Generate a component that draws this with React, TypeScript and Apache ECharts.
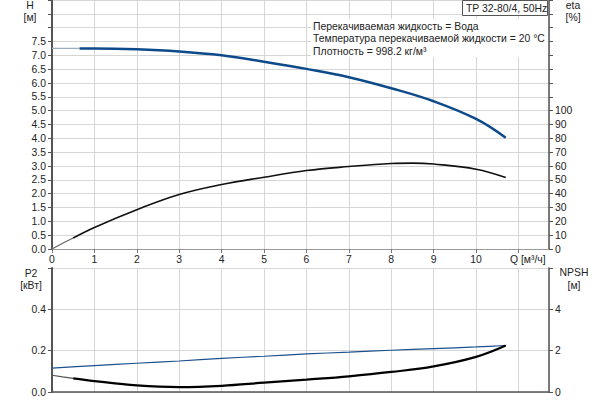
import React, { useEffect, useRef } from "react";
import * as echarts from "echarts";

// Q axis ticks
const qTicks = [0, 1, 2, 3, 4, 5, 6, 7, 8, 9, 10];

// Head H [m]
const headLowQ = [0, 0.65];
const headLow = [7.25, 7.25];
const headQ = [0.65, 1, 2, 3, 4, 5, 6, 7, 8, 9, 10, 10.7];
const headH = [7.25, 7.25, 7.22, 7.14, 7.0, 6.77, 6.51, 6.21, 5.81, 5.34, 4.7, 4.02];

// Efficiency eta [%]
const etaLowQ = [0, 0.25, 0.5];
const etaLow = [0, 4.1, 8];
const etaQ = [0.5, 1, 2, 3, 4, 5, 6, 7, 8, 8.5, 9, 10, 10.7];
const etaV = [8, 15.6, 28.4, 39.4, 46.6, 51.9, 56.7, 59.6, 61.8, 62.1, 61.4, 57.7, 51.7];

// Power P2 [kW]
const p2Q = [0, 1, 2, 3, 4, 5, 6, 7, 8, 9, 10, 10.7];
const p2V = [0.116, 0.128, 0.139, 0.15, 0.163, 0.173, 0.184, 0.193, 0.202, 0.21, 0.218, 0.225];

// NPSH [m]
const npshLowQ = [0, 0.25, 0.5];
const npshLow = [0.81, 0.73, 0.66];
const npshQ = [0.5, 1, 2, 3, 4, 5, 6, 7, 8, 9, 10, 10.7];
const npshV = [0.66, 0.53, 0.32, 0.24, 0.3, 0.45, 0.6, 0.76, 0.97, 1.24, 1.7, 2.25];

const infoLines = [
  "Перекачиваемая жидкость = Вода",
  "Температура перекачиваемой жидкости = 20 °C",
  "Плотность = 998.2 кг/м³",
];
const title = "TP 32-80/4, 50Hz";

const FONT = "'Liberation Sans', Arial, sans-serif";
const pairs = (xs: number[], ys: number[]) => xs.map((x, i) => [x, ys[i]]);

export default function App() {
  const ref = useRef<HTMLDivElement>(null);
  useEffect(() => {
    if (!ref.current) return;
    const chart = echarts.init(ref.current, null, { renderer: "svg" });
    const txt = { fontFamily: FONT, fontSize: 10.4, color: "#222" };
    const axisDark = { show: true, lineStyle: { color: "#555", width: 1.5 } };
    const gridLine = { show: true, lineStyle: { color: "#d6d6d6", width: 1 } };
    const xMax = 11.72;
    const gtxt = (text: string, x: number, y: number, align = "center", z = 5) => ({
      type: "text", z, x, y,
      style: { text, fontFamily: FONT, fontSize: 10.4, fill: "#222", align, verticalAlign: "middle" },
    });
    const option: any = {
      animation: false,
      textStyle: { fontFamily: FONT },
      grid: [
        { left: 52, right: 51, top: 0, bottom: 151 },
        { left: 52, right: 51, top: 268, bottom: 8 },
      ],
      xAxis: [
        {
          gridIndex: 0,
          type: "value",
          min: 0,
          max: xMax,
          interval: 1,
          axisLine: { show: true, lineStyle: { color: "#999", width: 1 } },
          axisTick: { show: true, length: 4, lineStyle: { color: "#777" } },
          axisLabel: {
            ...txt,
            margin: 5,
            showMaxLabel: false,
            formatter: (v: number) => (qTicks.includes(v) ? String(v) : ""),
          },
          splitLine: gridLine,
        },
        {
          gridIndex: 1,
          type: "value",
          position: "top",
          min: 0,
          max: xMax,
          interval: 1,
          axisLine: axisDark,
          axisTick: { show: false },
          axisLabel: { show: false },
          splitLine: gridLine,
        },
      ],
      yAxis: [
        {
          gridIndex: 0,
          type: "value",
          position: "left",
          min: 0,
          max: 9,
          interval: 0.5,
          axisLine: { show: true, lineStyle: { color: "#555", width: 2 } },
          axisTick: { show: true, length: 4, lineStyle: { color: "#555" } },
          axisLabel: { ...txt, margin: 6, formatter: (v: number) => (v <= 7.5 ? v.toFixed(1) : "") },
          splitLine: gridLine,
        },
        {
          gridIndex: 0,
          type: "value",
          position: "right",
          min: 0,
          max: 180,
          interval: 10,
          axisLine: axisDark,
          axisTick: { show: true, length: 4, lineStyle: { color: "#555" } },
          axisLabel: { ...txt, margin: 6, formatter: (v: number) => (v <= 100 ? String(v) : "") },
          splitLine: { show: false },
        },
        {
          gridIndex: 1,
          type: "value",
          position: "left",
          min: 0,
          max: 0.6,
          interval: 0.2,
          axisLine: { show: true, lineStyle: { color: "#555", width: 2 } },
          axisTick: { show: true, length: 4, lineStyle: { color: "#555" } },
          axisLabel: { ...txt, margin: 6, formatter: (v: number) => (v < 0.55 ? v.toFixed(1) : "") },
          splitLine: gridLine,
        },
        {
          gridIndex: 1,
          type: "value",
          position: "right",
          min: 0,
          max: 6,
          interval: 2,
          axisLine: axisDark,
          axisTick: { show: true, length: 4, lineStyle: { color: "#555" } },
          axisLabel: { ...txt, margin: 6, formatter: (v: number) => (v < 5.5 ? String(v) : "") },
          splitLine: { show: false },
        },
      ],
      series: [
        {
          type: "line", xAxisIndex: 0, yAxisIndex: 0, showSymbol: false, z: 3,
          data: pairs(headLowQ, headLow), lineStyle: { color: "#9fadc0", width: 1.2 },
        },
        {
          type: "line", xAxisIndex: 0, yAxisIndex: 0, showSymbol: false, smooth: 0.4, z: 4,
          data: pairs(headQ, headH), lineStyle: { color: "#0d4a8a", width: 2.5 },
        },
        {
          type: "line", xAxisIndex: 0, yAxisIndex: 1, showSymbol: false, z: 3,
          data: pairs(etaLowQ, etaLow), lineStyle: { color: "#666", width: 1.2 },
        },
        {
          type: "line", xAxisIndex: 0, yAxisIndex: 1, showSymbol: false, smooth: 0.4, z: 4,
          data: pairs(etaQ, etaV), lineStyle: { color: "#111", width: 1.6 },
        },
        {
          type: "line", xAxisIndex: 1, yAxisIndex: 2, showSymbol: false, smooth: 0.3, z: 4,
          data: pairs(p2Q, p2V), lineStyle: { color: "#1c508e", width: 1.2 },
        },
        {
          type: "line", xAxisIndex: 1, yAxisIndex: 3, showSymbol: false, z: 3,
          data: pairs(npshLowQ, npshLow), lineStyle: { color: "#555", width: 1.2 },
        },
        {
          type: "line", xAxisIndex: 1, yAxisIndex: 3, showSymbol: false, smooth: 0.4, z: 4,
          data: pairs(npshQ, npshV), lineStyle: { color: "#000", width: 2.2 },
        },
      ],
      graphic: [
        gtxt("H", 30, 5),
        gtxt("[м]", 30, 17),
        gtxt("eta", 573, 5),
        gtxt("[%]", 573, 17),
        gtxt("P2", 31, 273),
        gtxt("[кВт]", 31, 285),
        gtxt("NPSH", 574, 272),
        gtxt("[м]", 574, 285),
        gtxt("Q [м³/ч]", 510, 259.5, "left"),
        { type: "rect", z: 10, shape: { x: 311, y: 19, width: 237, height: 38 }, style: { fill: "#fff" } },
        ...infoLines.map((t, i) => gtxt(t, 313, 26 + i * 12.8, "left", 11)),
        { type: "rect", z: 10, shape: { x: 462.5, y: 0.5, width: 85, height: 15 }, style: { fill: "#fff", stroke: "#555", lineWidth: 1 } },
        gtxt(title, 466, 8.5, "left", 11),
      ],
    };
    chart.setOption(option);
    return () => chart.dispose();
  }, []);
  return <div ref={ref} style={{ width: 600, height: 400, position: "absolute", left: 0, top: 0 }} />;
}
